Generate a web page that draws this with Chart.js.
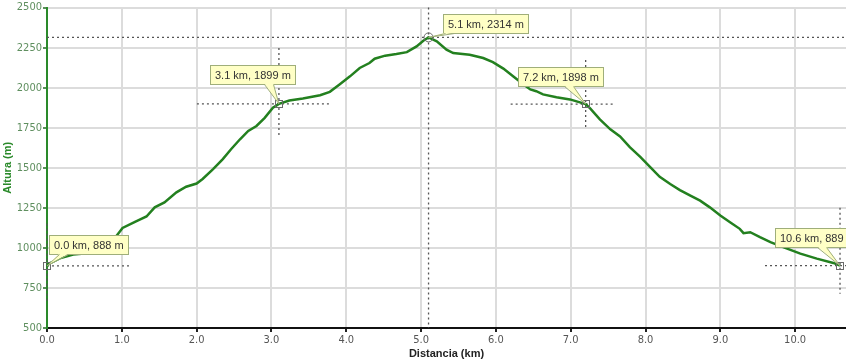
<!DOCTYPE html>
<html>
<head>
<meta charset="utf-8">
<script src="https://cdn.jsdelivr.net/npm/chart.js@4.4.1/dist/chart.umd.min.js"></script>
<style>
  html, body { margin: 0; padding: 0; background: #fff; }
</style>
</head>
<body>
<canvas id="perfil" width="846" height="362"></canvas>
<script>
// Perfil de altura: distancia (km) y altura (m)
const distancia = [0.00, 0.03, 0.17, 0.35, 0.61, 0.78, 0.92, 1.01, 1.19, 1.33,
  1.44, 1.57, 1.73, 1.86, 2.00, 2.08, 2.22, 2.35, 2.46, 2.58,
  2.69, 2.80, 2.91, 3.02, 3.10, 3.24, 3.42, 3.65, 3.78, 3.91,
  4.05, 4.18, 4.31, 4.38, 4.52, 4.67, 4.81, 4.94, 5.03, 5.10,
  5.21, 5.34, 5.43, 5.65, 5.83, 5.96, 6.10, 6.23, 6.37, 6.46,
  6.54, 6.63, 6.81, 6.99, 7.20, 7.26, 7.39, 7.53, 7.66, 7.79,
  7.93, 8.06, 8.19, 8.33, 8.46, 8.60, 8.73, 8.86, 9.00, 9.13,
  9.26, 9.31, 9.40, 9.53, 9.67, 9.84, 10.07, 10.29, 10.51, 10.60];
const altura = [888, 902, 935, 958, 970, 1000, 1070, 1125, 1166, 1196,
  1253, 1284, 1347, 1382, 1402, 1430, 1492, 1554, 1616, 1678,
  1730, 1761, 1812, 1875, 1899, 1920, 1933, 1953, 1974, 2020,
  2071, 2123, 2154, 2181, 2200, 2210, 2222, 2258, 2293, 2314,
  2289, 2237, 2216, 2206, 2185, 2160, 2119, 2071, 2020, 1989,
  1978, 1958, 1941, 1927, 1898, 1871, 1802, 1740, 1696, 1629,
  1568, 1506, 1444, 1399, 1361, 1326, 1295, 1253, 1202, 1160,
  1119, 1092, 1098, 1067, 1036, 1005, 964, 933, 906, 889];

// puntos marcados
const marcaKm = [0.0, 3.1, 5.1, 7.2, 10.6];
const marcaAlt = [888, 1899, 2314, 1898, 889];

// marcas de los ejes
const xTicks = [0, 1, 2, 3, 4, 5, 6, 7, 8, 9, 10];
const yTicks = [500, 750, 1000, 1250, 1500, 1750, 2000, 2250, 2500];

// donde va cada globo y cada cruz (px respecto al punto)
const estiloMarca = [
  { dx: 2,   dy: -31, tip: 8,  h: [0, 84],   v: [-42, 36] },
  { dx: -69, dy: -39, tip: 52, h: [-82, 53], v: [-56, 31] },
  { dx: 14,  dy: -23, tip: 0,  full: true },
  { dx: -68, dy: -37, tip: 44, h: [-75, 27], v: [-44, 24] },
  { dx: -65, dy: -38, tip: 40, h: [-75, 10], v: [-58, 28] }
];

const fuenteEje = "'Liberation Sans Narrow', 'DejaVu Sans Condensed', sans-serif";

const marcasPlugin = {
  id: 'marcas',
  beforeDatasetsDraw(chart) {
    const { ctx, chartArea, scales: { x, y } } = chart;
    ctx.save();
    ctx.strokeStyle = '#555';
    ctx.lineWidth = 1.3;
    ctx.setLineDash([2, 3]);
    marcaKm.forEach((km, i) => {
      const px = x.getPixelForValue(km);
      const py = y.getPixelForValue(marcaAlt[i]);
      const e = estiloMarca[i];
      ctx.beginPath();
      if (e.full) {
        ctx.moveTo(chartArea.left, py); ctx.lineTo(chartArea.right, py);
        ctx.moveTo(px, chartArea.top); ctx.lineTo(px, chartArea.bottom);
      } else {
        ctx.moveTo(px + e.h[0], py); ctx.lineTo(px + e.h[1], py);
        ctx.moveTo(px, py + e.v[0]); ctx.lineTo(px, py + e.v[1]);
      }
      ctx.stroke();
    });
    ctx.restore();
  },
  afterDatasetsDraw(chart) {
    const { ctx, scales: { x, y } } = chart;
    ctx.save();
    ctx.font = "11px 'Liberation Sans', Arial, sans-serif";
    marcaKm.forEach((km, i) => {
      const px = x.getPixelForValue(km);
      const py = y.getPixelForValue(marcaAlt[i]);
      const e = estiloMarca[i];
      const texto = km.toFixed(1) + ' km, ' + marcaAlt[i] + ' m';
      const w = Math.round(ctx.measureText(texto).width) + 9;
      const h = 19;
      const bx = Math.round(px + e.dx) + 0.5;
      const by = Math.round(py + e.dy) + 0.5;

      // marcador
      ctx.strokeStyle = '#6b6b6b';
      ctx.lineWidth = 1;
      ctx.setLineDash([]);
      if (e.full) {
        ctx.beginPath();
        ctx.arc(px, py, 4.5, 0, Math.PI * 2);
        ctx.stroke();
      } else {
        ctx.strokeRect(Math.round(px) - 3.5, Math.round(py) - 3.5, 7, 7);
      }

      // globo
      ctx.fillStyle = '#ffffc6';
      ctx.strokeStyle = '#9fae7a';
      ctx.fillRect(bx, by, w, h);
      ctx.strokeRect(bx, by, w, h);
      const t0 = bx + e.tip + 2, t1 = bx + e.tip + 11;
      ctx.beginPath();
      ctx.moveTo(t0, by + h - 1);
      ctx.lineTo(px, py);
      ctx.lineTo(t1, by + h - 1);
      ctx.closePath();
      ctx.fill();
      ctx.beginPath();
      ctx.moveTo(t0, by + h);
      ctx.lineTo(px, py);
      ctx.lineTo(t1, by + h);
      ctx.stroke();

      ctx.fillStyle = '#333';
      ctx.textBaseline = 'middle';
      ctx.fillText(texto, bx + 4.5, by + h / 2 + 0.5);
    });
    ctx.restore();
  }
};

new Chart(document.getElementById('perfil'), {
  type: 'line',
  data: {
    datasets: [{
      label: 'Altura',
      data: distancia.map((d, i) => ({ x: d, y: altura[i] })),
      borderColor: '#23801f',
      borderWidth: 2.5,
      pointRadius: 0,
      tension: 0,
      fill: false
    }]
  },
  options: {
    responsive: false,
    animation: false,
    devicePixelRatio: 1,
    layout: { padding: { top: 6, right: 0, left: 0, bottom: 0 } },
    plugins: {
      legend: { display: false },
      tooltip: { enabled: false }
    },
    scales: {
      x: {
        type: 'linear',
        min: 0,
        max: 10.68,
        afterBuildTicks: s => { s.ticks = xTicks.map(v => ({ value: v })); },
        afterFit: s => { s.height = 34; },
        grid: { color: '#dcdcdc', lineWidth: 2, tickLength: 4, tickColor: '#222' },
        border: { color: '#111', width: 2 },
        ticks: {
          color: '#555',
          font: { family: fuenteEje, size: 11 },
          padding: 2,
          maxRotation: 0,
          callback: v => Number(v).toFixed(1)
        },
        title: {
          display: true,
          text: 'Distancia (km)',
          color: '#222',
          font: { family: "'Liberation Sans', Arial, sans-serif", size: 11, weight: 'bold' },
          padding: { top: 0, bottom: 1 }
        }
      },
      y: {
        min: 500,
        max: 2500,
        afterBuildTicks: s => { s.ticks = yTicks.map(v => ({ value: v })); },
        afterFit: s => { s.width = 47; },
        grid: { color: '#dcdcdc', lineWidth: 2, tickLength: 4, tickColor: '#5a8f5a' },
        border: { color: '#2a8a2a', width: 2 },
        ticks: {
          color: '#5f8f5f',
          font: { family: fuenteEje, size: 11 },
          padding: 1,
          callback: v => String(v)
        },
        title: {
          display: true,
          text: 'Altura (m)',
          color: '#2a8a2a',
          font: { family: "'Liberation Sans', Arial, sans-serif", size: 11, weight: 'bold' },
          padding: { top: 1, bottom: 0 }
        }
      }
    }
  },
  plugins: [marcasPlugin]
});
</script>
</body>
</html>
